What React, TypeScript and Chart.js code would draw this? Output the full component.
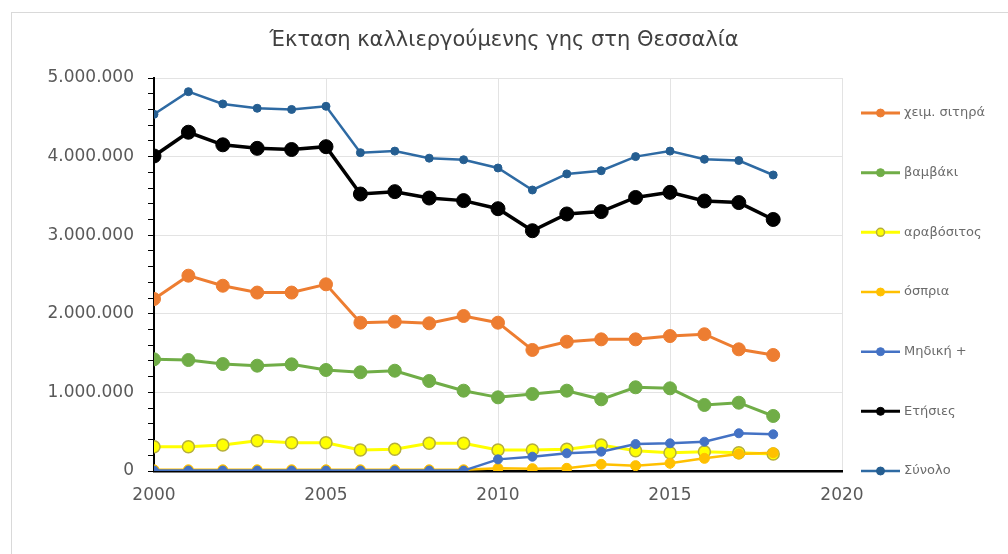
import React, { useEffect, useRef } from "react";
import { Chart, registerables } from "chart.js";

Chart.register(...registerables);

const years = [2000, 2001, 2002, 2003, 2004, 2005, 2006, 2007, 2008, 2009, 2010, 2011, 2012, 2013, 2014, 2015, 2016, 2017, 2018];

const xeimSitira = [2188000, 2485000, 2357000, 2270000, 2270000, 2375000, 1887000, 1900000, 1879000, 1972000, 1887000, 1540000, 1645000, 1675000, 1675000, 1717000, 1740000, 1548000, 1476000];
const vamvaki = [1421000, 1412000, 1361000, 1340000, 1357000, 1285000, 1256000, 1276000, 1145000, 1022000, 937000, 980000, 1022000, 912000, 1065000, 1052000, 840000, 869000, 700000];
const aravositos = [309000, 309000, 330000, 385000, 360000, 360000, 267000, 276000, 352000, 352000, 267000, 267000, 276000, 330000, 258000, 233000, 246000, 233000, 216000];
const ospria = [15000, 15000, 15000, 15000, 15000, 15000, 15000, 15000, 15000, 15000, 34000, 30000, 34000, 85000, 68000, 98000, 161000, 216000, 233000];
const midiki = [5000, 5000, 5000, 5000, 5000, 5000, 5000, 5000, 5000, 5000, 148000, 182000, 225000, 246000, 343000, 352000, 373000, 480000, 467000];
const etisies = [4008000, 4310000, 4150000, 4105000, 4090000, 4126000, 3524000, 3554000, 3473000, 3440000, 3337000, 3057000, 3270000, 3300000, 3480000, 3545000, 3435000, 3415000, 3200000];
const synolo = [4538000, 4826000, 4670000, 4615000, 4600000, 4640000, 4050000, 4070000, 3980000, 3960000, 3855000, 3575000, 3780000, 3820000, 4000000, 4070000, 3966000, 3950000, 3766000];

const seriesNames = ["χειμ. σιτηρά", "βαμβάκι", "αραβόσιτος", "όσπρια", "Μηδική +", "Ετήσιες", "Σύνολο"];
const xTickValues = [2000, 2005, 2010, 2015, 2020];
const yTickValues = [
  0, 200000, 400000, 600000, 800000, 1000000, 1200000, 1400000, 1600000, 1800000,
  2000000, 2200000, 2400000, 2600000, 2800000, 3000000, 3200000, 3400000, 3600000, 3800000,
  4000000, 4200000, 4400000, 4600000, 4800000, 5000000,
];
const title = "Έκταση καλλιεργούμενης γης στη Θεσσαλία";

const FONT = "'DejaVu Sans', sans-serif";

function fmt(v: number): string {
  return String(Math.round(v)).replace(/\B(?=(\d{3})+(?!\d))/g, ".");
}

const titlePlugin = {
  id: "centeredTitle",
  afterDraw(chart: any) {
    const { ctx } = chart;
    ctx.save();
    ctx.fillStyle = "#404040";
    ctx.font = `21px ${FONT}`;
    ctx.textAlign = "center";
    ctx.textBaseline = "middle";
    ctx.fillText(title, 504, 41);
    ctx.restore();
  },
};

const legendPlugin = {
  id: "sideLegend",
  afterDraw(chart: any) {
    const { ctx, chartArea } = chart;
    const ds = chart.data.datasets;
    const n = ds.length;
    const y0 = chartArea.top + 35;
    const step = (chartArea.bottom - y0) / (n - 1);
    const x0 = chartArea.right + 19;
    ds.forEach((d: any, i: number) => {
      const y = y0 + i * step;
      ctx.save();
      ctx.strokeStyle = d.borderColor;
      ctx.lineWidth = Math.min(d.borderWidth, 3);
      ctx.beginPath();
      ctx.moveTo(x0, y);
      ctx.lineTo(x0 + 39, y);
      ctx.stroke();
      ctx.beginPath();
      ctx.arc(x0 + 19.5, y, 4, 0, Math.PI * 2);
      ctx.fillStyle = d.pointBackgroundColor;
      ctx.fill();
      ctx.lineWidth = d.pointBorderWidth;
      ctx.strokeStyle = d.pointBorderColor;
      ctx.stroke();
      ctx.fillStyle = "#6b6b6b";
      ctx.font = `13px ${FONT}`;
      ctx.textAlign = "left";
      ctx.textBaseline = "middle";
      ctx.fillText(seriesNames[i], x0 + 43, y);
      ctx.restore();
    });
  },
};

export default function App() {
  const ref = useRef<HTMLCanvasElement | null>(null);

  useEffect(() => {
    if (!ref.current) return;
    const mk = (vals: number[]) => years.map((x, i) => ({ x, y: vals[i] }));
    const styles = [
      { values: xeimSitira, line: "#ED7D31", fill: "#ED7D31", border: "#ED7D31", bw: 3, r: 6.5, pbw: 1 },
      { values: vamvaki, line: "#70AD47", fill: "#70AD47", border: "#70AD47", bw: 3, r: 6.5, pbw: 1 },
      { values: aravositos, line: "#FFFF00", fill: "#FFFF00", border: "#B5AE3C", bw: 3, r: 6, pbw: 1.5 },
      { values: ospria, line: "#FFC000", fill: "#FFC000", border: "#FFC000", bw: 2.5, r: 5, pbw: 1 },
      { values: midiki, line: "#4472C4", fill: "#4472C4", border: "#4472C4", bw: 2.5, r: 4.5, pbw: 1 },
      { values: etisies, line: "#000000", fill: "#000000", border: "#000000", bw: 3.5, r: 7, pbw: 1 },
      { values: synolo, line: "#2E6AA3", fill: "#255E91", border: "#255E91", bw: 2.5, r: 4, pbw: 1 },
    ];
    const datasets = styles.map((s, i) => ({
      label: seriesNames[i],
      data: mk(s.values),
      borderColor: s.line,
      backgroundColor: s.fill,
      borderWidth: s.bw,
      pointRadius: s.r,
      pointBackgroundColor: s.fill,
      pointBorderColor: s.border,
      pointBorderWidth: s.pbw,
      tension: 0,
      order: styles.length - i,
    }));

    const chart = new Chart(ref.current, {
      type: "line",
      data: { datasets },
      plugins: [titlePlugin, legendPlugin],
      options: {
        animation: false,
        responsive: true,
        maintainAspectRatio: false,
        layout: { padding: { top: 78, left: 0, right: 166, bottom: 43 } },
        plugins: {
          legend: { display: false },
          tooltip: { enabled: false },
          title: { display: false },
        },
        scales: {
          x: {
            type: "linear",
            min: 2000,
            max: 2020,
            afterBuildTicks: (scale: any) => {
              scale.ticks = xTickValues.map((v) => ({ value: v }));
            },
            afterFit: (scale: any) => {
              scale.height = 40;
            },
            ticks: {
              callback: (v: any) => String(v),
              color: "#595959",
              font: { family: FONT, size: 17 },
              padding: 14,
              autoSkip: false,
              maxRotation: 0,
            },
            grid: { color: "#e3e3e3", lineWidth: 1, drawTicks: false },
            border: { color: "#000000", width: 2.5 },
          },
          y: {
            type: "linear",
            min: 0,
            max: 5000000,
            afterBuildTicks: (scale: any) => {
              scale.ticks = yTickValues.map((v) => ({ value: v }));
            },
            afterFit: (scale: any) => {
              scale.width = 154;
            },
            ticks: {
              callback: (v: any) => (Number(v) % 1000000 === 0 ? fmt(Number(v)) : ""),
              color: "#595959",
              font: { family: FONT, size: 17 },
              padding: 14,
              autoSkip: false,
            },
            grid: {
              color: (c: any) => (c.tick && c.tick.value % 1000000 === 0 ? "#e3e3e3" : "rgba(0,0,0,0)"),
              tickColor: "#000000",
              tickLength: 6,
              lineWidth: 1,
              drawTicks: true,
            },
            border: { color: "#000000", width: 2 },
          },
        },
      } as any,
    });
    return () => chart.destroy();
  }, []);

  return (
    <div style={{ position: "fixed", left: 0, top: 0, width: 1008, height: 554, background: "#fff", overflow: "hidden" }}>
      <div
        style={{
          position: "absolute",
          left: 11,
          top: 12,
          width: 1100,
          height: 600,
          borderTop: "1px solid #d9d9d9",
          borderLeft: "1px solid #d9d9d9",
          pointerEvents: "none",
        }}
      />
      <div style={{ position: "absolute", left: 0, top: 0, width: 1008, height: 554 }}>
        <canvas ref={ref} />
      </div>
    </div>
  );
}
